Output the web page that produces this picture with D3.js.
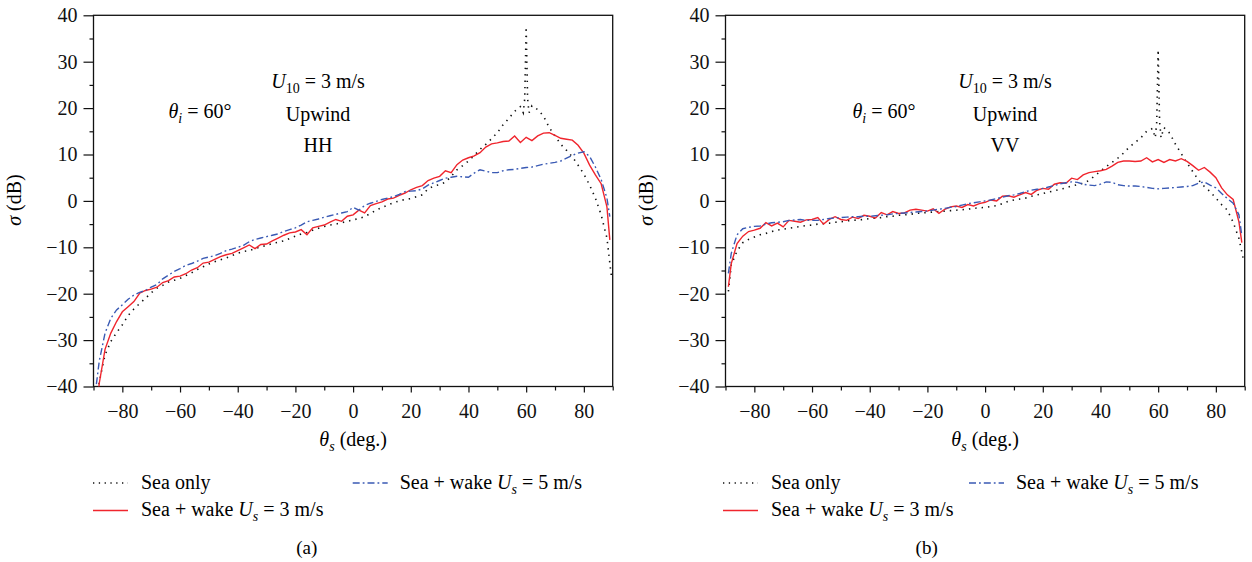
<!DOCTYPE html>
<html>
<head>
<meta charset="utf-8">
<script src="https://cdn.jsdelivr.net/npm/d3@7"></script>
<style>
  body { margin: 0; background: #fff; }
  svg { font-family: "Liberation Serif", "Times New Roman", serif; }
  .tick text { font-family: "Liberation Serif", "Times New Roman", serif; font-size: 20px; fill: #111; }
  .tick line { stroke: #111; stroke-width: 1.2px; }
  .frame { fill: none; stroke: #111; stroke-width: 1.3px; }
</style>
</head>
<body>
<svg id="chart" width="1252" height="562"></svg>
<script>
// scattering angle grid for the wake curves (deg)
var angles = [
  -89, -88, -86, -84, -82, -80, -78, -76, -74, -72,
  -70, -68, -66, -64, -62, -60, -58, -56, -54, -52,
  -50, -48, -46, -44, -42, -40, -38, -36, -34, -32,
  -30, -28, -26, -24, -22, -20, -18, -16, -14, -12,
  -10, -8, -6, -4, -2, 0, 2, 4, 6, 8,
  10, 12, 14, 16, 18, 20, 22, 24, 26, 28,
  30, 32, 34, 36, 38, 40, 42, 44, 46, 48,
  50, 52, 54, 56, 58, 60, 62, 64, 66, 68,
  70, 72, 74, 76, 78, 80, 82, 84, 86, 88,
  89
];

// grid for the sea-only curves (finer around the specular peak)
var seaAngles = [
  -89, -88, -86, -84, -82, -80, -78, -76, -74, -72,
  -70, -68, -66, -64, -62, -60, -58, -56, -54, -52,
  -50, -48, -46, -44, -42, -40, -38, -36, -34, -32,
  -30, -28, -26, -24, -22, -20, -18, -16, -14, -12,
  -10, -8, -6, -4, -2, 0, 2, 4, 6, 8,
  10, 12, 14, 16, 18, 20, 22, 24, 26, 28,
  30, 32, 34, 36, 38, 40, 42, 44, 46, 48,
  50, 52, 54, 56, 58, 59, 59.5, 60, 60.5, 61,
  62, 64, 66, 68, 70, 72, 74, 76, 78, 80,
  82, 84, 86, 88, 89.5
];

// (a) HH
var hhSea = [
  -45, -39, -33.2, -30.3, -28.4, -26.7, -24.7, -23.3, -22.1, -21,
  -19.8, -18.8, -18.2, -17.5, -17.1, -16.7, -16.1, -15.5, -14.8, -14.2,
  -13.6, -13.1, -12.7, -12.3, -11.8, -11.3, -10.9, -10.7, -10.3, -9.9,
  -9.6, -9.2, -8.9, -8.6, -8.1, -7.6, -7.1, -6.8, -6.3, -5.9,
  -5.5, -5.2, -5, -4.7, -4.4, -4.1, -3.8, -3.4, -2.7, -2,
  -1.4, -0.9, -0.4, 0, 0.3, 0.5, 0.9, 1.3, 2.6, 3.2,
  3.5, 4.0, 5.3, 6.7, 7.6, 8.6, 9.8, 11.1, 12.2, 13.4,
  14.7, 16.4, 17.8, 19.3, 20.3, 19, 22, 37.5, 22, 19,
  20.5, 19.7, 18.3, 15.8, 14.0, 12.2, 10.9, 9.5, 7.7, 5.8,
  3.4, 0.6, -3.0, -8.0, -16
];
var hhWake3 = [
  -45, -39.3, -32, -28.5, -26, -23.9, -22.8, -21.7, -19.9, -19.3,
  -19, -18.6, -17.6, -17.2, -16.4, -16.2, -15.7, -14.9, -14.4, -13.4,
  -13.2, -12.6, -12, -11.6, -11.3, -10.7, -10.1, -9.5, -10.3, -9.4,
  -9.3, -8.6, -8, -7.4, -6.9, -6.7, -6.2, -7.3, -5.8, -5.5,
  -5.2, -4.6, -4, -4.4, -3.3, -3, -2, -2.6, -1, -0.6,
  -0.2, 0.4, 0.6, 1.2, 1.7, 2.4, 2.9, 3.3, 4.4, 4.9,
  5.3, 6.5, 6.1, 7.8, 8.8, 9.3, 9.7, 10.4, 11.6, 12.3,
  12.5, 12.8, 12.9, 14, 12.6, 13.7, 13, 14, 14.6, 14.7,
  14.1, 13.5, 13.3, 13.1, 12, 10.3, 7.7, 5.6, 3.7, -1.3,
  -8.4
];
var hhWake5 = [
  -39.5, -34.5, -28.5, -25.3, -23.5, -22.4, -21.2, -20.3, -19.7, -19.3,
  -18.6, -18, -16.8, -16, -15.2, -14.6, -13.9, -13.5, -13, -12.4,
  -12.1, -11.8, -11.3, -10.7, -10.4, -10, -9.6, -8.8, -8.3, -8,
  -7.7, -7.4, -7.1, -6.6, -6.2, -5.8, -5.2, -4.5, -4.2, -3.9,
  -3.5, -3.2, -2.9, -2.6, -2.3, -1.4, -2, -1, -0.5, -0.1,
  0.3, 0.6, 0.9, 1.4, 2, 2.1, 2.2, 2.6, 3.4, 3.9,
  4.4, 4.9, 5.1, 5.3, 5.2, 5.1, 6, 6.7, 6.4, 6.1,
  6.1, 6.5, 6.7, 6.8, 7, 7.2, 7.3, 7.6, 7.9, 8.1,
  8.3, 8.6, 9.2, 9.8, 10.3, 10.6, 9.6, 7.3, 4.6, 0.6,
  -3.4
];

// (b) VV
var vvSea = [
  -19.5, -13.8, -10.8, -9.0, -8.3, -7.8, -7.3, -7, -6.6, -6.3,
  -6.1, -5.9, -5.7, -5.5, -5.3, -5.2, -5, -4.9, -4.8, -4.6,
  -4.5, -4.3, -4.2, -4.1, -4, -3.8, -3.7, -3.6, -3.4, -3.3,
  -3.1, -3, -2.9, -2.7, -2.6, -2.5, -2.4, -2.3, -2.2, -2.1,
  -2, -1.9, -1.8, -1.6, -1.5, -1.4, -1.2, -1, -0.6, -0.1,
  0.2, 0.4, 0.6, 1, 1.3, 1.6, 1.9, 2.2, 2.5, 2.8,
  3.2, 3.5, 3.8, 4.4, 5.4, 6.4, 7.4, 8.3, 9.2, 10.3,
  11.6, 12.6, 13.6, 15, 15.6, 13.6, 17, 32.6, 17, 13.6,
  15.8, 14.6, 12.2, 10.2, 8.2, 6.3, 4.5, 3.1, 2, 0.6,
  -0.8, -2, -4.6, -8.1, -12.5
];
var vvWake3 = [
  -18.5, -13.5, -9.2, -7.6, -6.6, -6.3, -5.9, -4.7, -5.4, -4.8,
  -5.6, -4.2, -4.4, -4.6, -4.1, -4, -3.6, -5, -4, -3.4,
  -4, -4.2, -3.5, -3.8, -3.1, -3.3, -3.7, -2.5, -3, -2.3,
  -2.7, -2.6, -2, -1.8, -2, -2.2, -1.7, -2.7, -1.8, -1.3,
  -1.1, -1.4, -0.8, -1.1, -0.6, -0.3, 0.2, 0, 1, 1.1,
  0.8, 1.3, 1.8, 1.4, 2.3, 2.7, 2.5, 3.6, 3.9, 3.8,
  4.9, 4.6, 5.6, 6.1, 6.3, 6.5, 6.8, 7.5, 8.3, 8.6,
  8.6, 8.5, 8.6, 9.3, 8.4, 8.9, 8.3, 8.9, 8.6, 9.1,
  8.5, 7.6, 6.6, 7.2, 6.2, 5, 2.8, 1.3, 0.3, -4.5,
  -9
];
var vvWake5 = [
  -15.6, -11.3, -7.3, -6, -5.7, -5.5, -5.4, -5, -4.7, -4.6,
  -4.5, -4.2, -4.1, -4, -4.2, -4.2, -4.2, -4, -3.8, -3.7,
  -3.6, -3.5, -3.4, -3.4, -3.3, -3.3, -3.2, -3.1, -3, -2.8,
  -2.7, -2.6, -2.5, -2.4, -2.3, -2.2, -2, -1.8, -1.6, -1.4,
  -1.2, -0.9, -0.6, -0.4, -0.2, 0, 0.2, 0.5, 0.8, 1.1,
  1.3, 1.6, 2, 2.3, 2.5, 2.7, 3, 3.3, 3.7, 3.9,
  4.1, 4, 3.6, 3.4, 3.3, 3.6, 4.1, 4, 3.5, 3.3,
  3.2, 3.2, 3.1, 2.9, 2.7, 2.6, 2.7, 2.8, 2.9, 3,
  3.1, 3.3, 3.8, 4.1, 3.4, 2.8, 1.6, 0.5, -0.5, -3,
  -7.5
];

var xMajor = [-80, -60, -40, -20, 0, 20, 40, 60, 80];
var xMinor = [-90, -70, -50, -30, -10, 10, 30, 50, 70, 90];
var yMajor = [-40, -30, -20, -10, 0, 10, 20, 30, 40];
var yMinor = [-35, -25, -15, -5, 5, 15, 25, 35];

var panels = [
  {id: "a", x0: 93.5, x1: 612.7, sea: hhSea, w3: hhWake3, w5: hhWake5, pol: "HH", label: "(a)",
   thetaX: 200, condX: 318, legX: 93, legX2: 352.7, capX: 306.7},
  {id: "b", x0: 725.5, x1: 1244.7, sea: vvSea, w3: vvWake3, w5: vvWake5, pol: "VV", label: "(b)",
   thetaX: 884, condX: 1005, legX: 723, legX2: 969, capX: 926.7}
];

var RED = "#f0252d", BLUE = "#3a5ab4";
var svg = d3.select("#chart");
var y = d3.scaleLinear().domain([-40, 40]).range([386.5, 15.3]);

function sub(text, main, subs, rest, size) {
  text.append("tspan").attr("font-style", "italic").text(main);
  text.append("tspan").attr("font-size", size).attr("dy", 5).attr("font-style", subs.italic ? "italic" : null).text(subs.t);
  text.append("tspan").attr("dy", -5).text(rest);
}

function drawPanel(p) {
  var x = d3.scaleLinear().domain([-90, 90]).range([p.x0, p.x1]);
  var g = svg.append("g");

  svg.append("clipPath").attr("id", "clip-" + p.id)
    .append("rect")
    .attr("x", p.x0).attr("y", y(40))
    .attr("width", p.x1 - p.x0).attr("height", y(-40) - y(40));

  // y axis
  var ya = g.append("g").attr("transform", "translate(" + p.x0 + ",0)")
    .call(d3.axisLeft(y).tickValues(yMajor).tickSize(10).tickPadding(6));
  ya.select(".domain").remove();
  var ym = g.append("g").attr("transform", "translate(" + p.x0 + ",0)")
    .call(d3.axisLeft(y).tickValues(yMinor).tickSize(4).tickFormat(""));
  ym.select(".domain").remove();

  // x axis
  var xa = g.append("g").attr("transform", "translate(0," + y(-40) + ")")
    .call(d3.axisBottom(x).tickValues(xMajor).tickSize(6).tickPadding(11));
  xa.select(".domain").remove();
  var xm = g.append("g").attr("transform", "translate(0," + y(-40) + ")")
    .call(d3.axisBottom(x).tickValues(xMinor).tickSize(4).tickFormat(""));
  xm.select(".domain").remove();

  g.append("rect").attr("class", "frame")
    .attr("x", p.x0).attr("y", y(40))
    .attr("width", p.x1 - p.x0).attr("height", y(-40) - y(40));

  var line = d3.line().x(function (d) { return x(d[0]); }).y(function (d) { return y(d[1]); });
  var curves = g.append("g").attr("clip-path", "url(#clip-" + p.id + ")");

  curves.append("path")
    .datum(seaAngles.map(function (a, i) { return [a, p.sea[i]]; }))
    .attr("d", line).attr("fill", "none")
    .attr("stroke", "#111").attr("stroke-width", 1.6).attr("stroke-dasharray", "1.4 5");
  curves.append("path")
    .datum(angles.map(function (a, i) { return [a, p.w3[i]]; }))
    .attr("d", line).attr("fill", "none")
    .attr("stroke", RED).attr("stroke-width", 1.4);
  curves.append("path")
    .datum(angles.map(function (a, i) { return [a, p.w5[i]]; }))
    .attr("d", line).attr("fill", "none")
    .attr("stroke", BLUE).attr("stroke-width", 1.4).attr("stroke-dasharray", "7 3 1.8 3");

  // axis titles
  var yl = g.append("text").attr("font-size", 20).attr("text-anchor", "middle")
    .attr("transform", "translate(" + (p.x0 - 73) + ",200) rotate(-90)");
  yl.append("tspan").attr("font-style", "italic").text("σ");
  yl.append("tspan").text(" (dB)");

  var xl = g.append("text").attr("font-size", 20).attr("text-anchor", "middle")
    .attr("x", x(0)).attr("y", 446);
  sub(xl, "θ", {t: "s", italic: true}, " (deg.)", 14);

  // annotations
  var th = g.append("text").attr("font-size", 20).attr("text-anchor", "middle")
    .attr("x", p.thetaX).attr("y", 118);
  sub(th, "θ", {t: "i", italic: true}, " = 60°", 14);

  var u = g.append("text").attr("font-size", 20).attr("text-anchor", "middle")
    .attr("x", p.condX).attr("y", 88);
  sub(u, "U", {t: "10", italic: false}, " = 3 m/s", 14);

  g.append("text").attr("font-size", 20).attr("text-anchor", "middle")
    .attr("x", p.condX).attr("y", 121).text("Upwind");
  g.append("text").attr("font-size", 20).attr("text-anchor", "middle")
    .attr("x", p.condX).attr("y", 152).text(p.pol);

  // legend
  var leg = g.append("g");
  function sample(x0, yy, color, dash) {
    leg.append("line").attr("x1", x0).attr("x2", x0 + 35).attr("y1", yy).attr("y2", yy)
      .attr("stroke", color).attr("stroke-width", color === "#111" ? 1.3 : 1.4)
      .attr("stroke-dasharray", dash);
  }
  sample(p.legX, 483, "#111", "1.3 4.5");
  leg.append("text").attr("font-size", 20).attr("x", p.legX + 48).attr("y", 489).text("Sea only");

  sample(p.legX, 510.5, RED, null);
  var t3 = leg.append("text").attr("font-size", 20).attr("x", p.legX + 48).attr("y", 516);
  t3.append("tspan").text("Sea + wake ");
  sub(t3, "U", {t: "s", italic: true}, " = 3 m/s", 14);

  sample(p.legX2, 483, BLUE, "7 3 1.8 3");
  var t5 = leg.append("text").attr("font-size", 20).attr("x", p.legX2 + 47).attr("y", 489);
  t5.append("tspan").text("Sea + wake ");
  sub(t5, "U", {t: "s", italic: true}, " = 5 m/s", 14);

  g.append("text").attr("font-size", 19).attr("text-anchor", "middle")
    .attr("x", p.capX).attr("y", 554).text(p.label);
}

panels.forEach(drawPanel);
</script>
</body>
</html>
